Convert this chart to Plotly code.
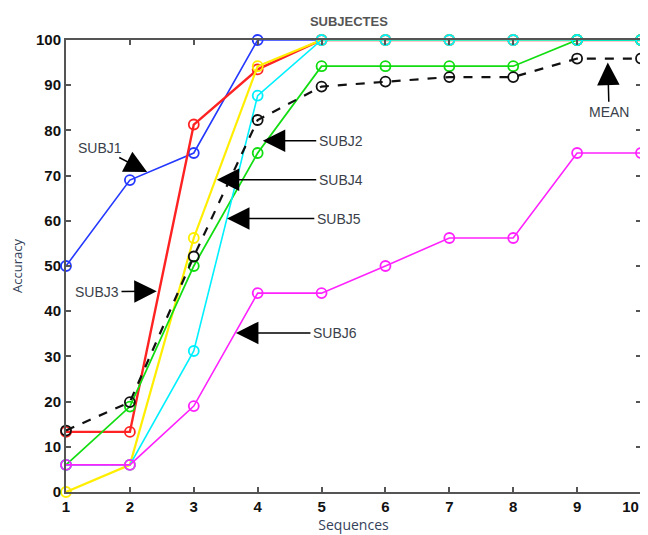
import plotly.graph_objects as go

sequences = [1, 2, 3, 4, 5, 6, 7, 8, 9, 10]
x_tick_labels = ["1", "2", "3", "4", "5", "6", "7", "8", "9", "10\u00a0\u00a0\u00a0\u00a0\u00a0"]
subj1 = [50, 69, 75, 100, 100, 100, 100, 100, 100, 100]
subj3 = [13.3, 13.3, 81.3, 93.5, 100, 100, 100, 100, 100, 100]
subj4 = [0, 6, 56.2, 94.2, 100, 100, 100, 100, 100, 100]
subj2 = [6, 18.9, 50, 75, 94.2, 94.2, 94.2, 94.2, 100, 100]
subj5 = [6, 6, 31.2, 87.7, 100, 100, 100, 100, 100, 100]
subj6 = [6, 6, 19, 44, 44, 50, 56.2, 56.2, 75, 75]
mean = [13.6, 19.9, 52.1, 82.3, 89.7, 90.8, 91.8, 91.8, 95.9, 95.9]

series = [
    ("SUBJ1", subj1, "#2438ff", 1.6, "solid"),
    ("SUBJ3", subj3, "#ff2222", 2.4, "solid"),
    ("SUBJ4", subj4, "#ffee00", 2.2, "solid"),
    ("SUBJ2", subj2, "#11dd11", 1.8, "solid"),
    ("SUBJ5", subj5, "#00f0ff", 1.6, "solid"),
    ("SUBJ6", subj6, "#ff22ff", 1.6, "solid"),
    ("MEAN", mean, "#111111", 2.2, "dash"),
]

fig = go.Figure()
for name, vals, color, w, dash in series:
    fig.add_trace(go.Scatter(
        x=sequences, y=vals, mode="lines+markers", name=name,
        line=dict(color=color, width=w, dash=dash),
        marker=dict(symbol="circle-open", size=10, color=color, line=dict(width=1.8, color=color)),
        cliponaxis=False,
    ))

# annotations: (label, text x, text y, tip x, tip y)
labels = [
    ("SUBJ1", 1.532, 76.2, 2.27, 70.8),
    ("SUBJ2", 5.30, 77.7, 4.08, 77.7),
    ("SUBJ4", 5.30, 69.1, 3.36, 69.1),
    ("SUBJ5", 5.27, 60.5, 3.52, 60.5),
    ("SUBJ3", 1.485, 44.3, 2.42, 44.4),
    ("SUBJ6", 5.21, 35.2, 3.66, 35.2),
    ("MEAN", 9.5, 84.0, 9.48, 95.0),
]
for text, tx, ty, hx, hy in labels:
    fig.add_annotation(
        x=hx, y=hy, ax=tx, ay=ty, axref="x", ayref="y", xref="x", yref="y",
        text=text, showarrow=True, arrowhead=2, arrowsize=3.0, arrowwidth=1.5,
        arrowcolor="#000000", standoff=0, startstandoff=1,
        font=dict(family="Arial, Liberation Sans", size=14, color="#3a3f4a"),
    )

tickfont = dict(family="Liberation Sans, Arial", size=15, color="#111", weight=700)

# page body has an 8px default margin, so the figure is sized to fit inside it
fig.update_layout(
    width=640, height=527,
    margin=dict(l=58, r=7, t=32, b=43),
    paper_bgcolor="white", plot_bgcolor="white",
    showlegend=False,
    title=dict(text="SUBJECTES", x=0.492, xref="paper", xanchor="center",
               y=0.975, yref="container", yanchor="middle",
               font=dict(family="Arial, Liberation Sans", size=13, color="#555", weight=700)),
    xaxis=dict(range=[1, 10], tickmode="array", tickvals=sequences, ticktext=x_tick_labels,
               automargin=False,
               ticks="inside", ticklen=5, tickwidth=1.5, tickcolor="#555",
               showline=True, linewidth=2, linecolor="#555", mirror="ticks",
               showgrid=False, zeroline=False, tickfont=tickfont,
               ticklabeloverflow="allow",
               title=dict(text="Sequences", standoff=2,
                          font=dict(family="Open Sans, Arial", size=14, color="#34425a"))),
    yaxis=dict(range=[0, 100], tickmode="array", tickvals=list(range(0, 101, 10)), automargin=False,
               ticks="inside", ticklen=5, tickwidth=1.5, tickcolor="#555",
               showline=True, linewidth=2, linecolor="#555", mirror="ticks",
               showgrid=False, zeroline=False, tickfont=tickfont,
               ticklabeloverflow="allow",
               title=dict(text="Accuracy", standoff=14,
                          font=dict(family="Open Sans, Arial", size=13, color="#34425a"))),
)

fig.write_html("out.html")
